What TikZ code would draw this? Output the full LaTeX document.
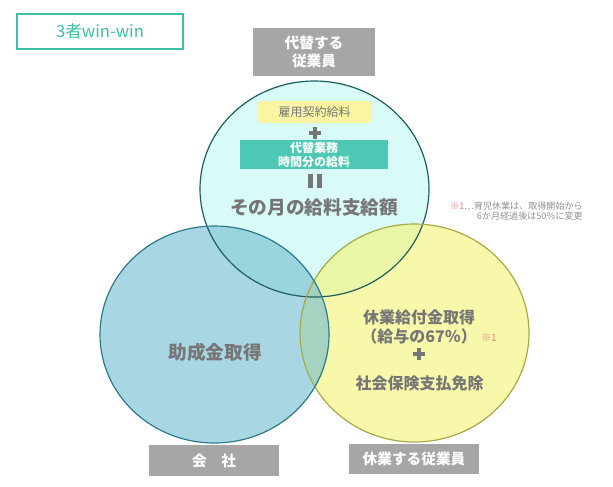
\documentclass[tikz,border=0pt]{standalone}
\usepackage{fontspec}
\setmainfont{Noto Sans CJK JP}
\usetikzlibrary{positioning}

\definecolor{boxgray}{HTML}{A6A6A6}
\definecolor{textgray}{HTML}{767676}
\definecolor{tealbox}{HTML}{4DC8B4}
\definecolor{tealline}{HTML}{3EBFA8}
\definecolor{paleyellow}{HTML}{FBF5A3}
\definecolor{notered}{HTML}{F08080}
\definecolor{topfill}{HTML}{D8FBF7}
\definecolor{topline}{HTML}{1E5E5E}
\definecolor{leftfill}{RGB}{112,187,208}
\definecolor{leftline}{HTML}{2C7A8C}
\definecolor{rightfill}{RGB}{243,243,113}
\definecolor{rightline}{HTML}{A9A94A}

\begin{document}
\begin{tikzpicture}[
    x=0.75pt, y=-0.75pt,
    graybox/.style={
        fill=boxgray,
        text=white,
        align=center,
        font=\bfseries\fontsize{11}{13}\selectfont,
        inner sep=0pt,
    },
    label/.style={
        text=textgray,
        align=center,
        inner sep=0pt,
        font=\bfseries\fontsize{12}{14.5}\selectfont,
    },
    bigtext/.style={
        text=textgray,
        inner sep=0pt,
        font=\bfseries\fontsize{14}{16}\selectfont,
    },
    plussign/.pic={
        \fill[textgray] (-6,-2) rectangle (6,2);
        \fill[textgray] (-2,-6) rectangle (2,6);
    }
]

\useasboundingbox (0,0) rectangle (613,486);

% circles: fills first, outlines on top
\fill[topfill] (314.5,189) ellipse [x radius=114.5, y radius=108];
\fill[rightfill, fill opacity=0.6] (414.5,333) ellipse [x radius=114.5, y radius=109];
\fill[leftfill, fill opacity=0.6] (214.5,334.5) ellipse [x radius=114.5, y radius=108.5];
\draw[topline, line width=0.9pt] (314.5,189) ellipse [x radius=114.5, y radius=108];
\draw[rightline, line width=0.9pt] (414.5,333) ellipse [x radius=114.5, y radius=109];
\draw[leftline, line width=0.9pt] (214.5,334.5) ellipse [x radius=114.5, y radius=108.5];

% title
\node[draw=tealline, line width=1.1pt, text=tealline,
      minimum width=124.5pt, minimum height=26.25pt,
      font=\fontsize{12.5}{14}\selectfont] (title) at (100,31.5) {3者win-win};

% three parties
\node[graybox, minimum width=91.5pt, minimum height=36pt] (substitute) at (314,52) {代替する\\従業員};
\node[graybox, minimum width=97.5pt, minimum height=23.25pt] (company) at (214,460.5) {会\hspace{1em}社};
\node[graybox, minimum width=97.5pt, minimum height=22.5pt] (onleave) at (414,459) {休業する従業員};

% top circle
\node[fill=paleyellow, text=textgray, inner sep=0pt,
      minimum width=84.75pt, minimum height=16.5pt,
      font=\fontsize{9}{11}\selectfont] (contract) at (314.5,112) {雇用契約給料};
\pic at (315,133) {plussign};
\node[fill=tealbox, text=white, align=center, inner sep=0pt,
      minimum width=111pt, minimum height=21.75pt,
      font=\bfseries\fontsize{9}{10.5}\selectfont] (extra) at (314,154.5) {代替業務\\時間分の給料};
\fill[textgray] (308,174) rectangle (313,188);
\fill[textgray] (317,174) rectangle (322,188);
\node[bigtext] (monthly) at (314,207) {その月の給料支給額};

% left circle
\node[bigtext] (subsidy) at (215,352) {助成金取得};

% right circle
\node[label] (benefit) at (419,327) {休業給付金取得\\（給与の67％）};
\node[text=notered, inner sep=0pt, font=\fontsize{7.5}{9}\selectfont] (mark) at (489,338) {※1};
\pic at (419,354) {plussign};
\node[label] (exempt) at (419.5,383) {社会保険支払免除};

% note
\node[anchor=east, align=right, text=textgray!80, inner sep=0pt,
      font=\fontsize{6.8}{7.8}\selectfont] (note) at (583,211)
      {\textcolor{notered}{※1}…育児休業は、取得開始から\\6か月経過後は50％に変更};

\end{tikzpicture}
\end{document}
